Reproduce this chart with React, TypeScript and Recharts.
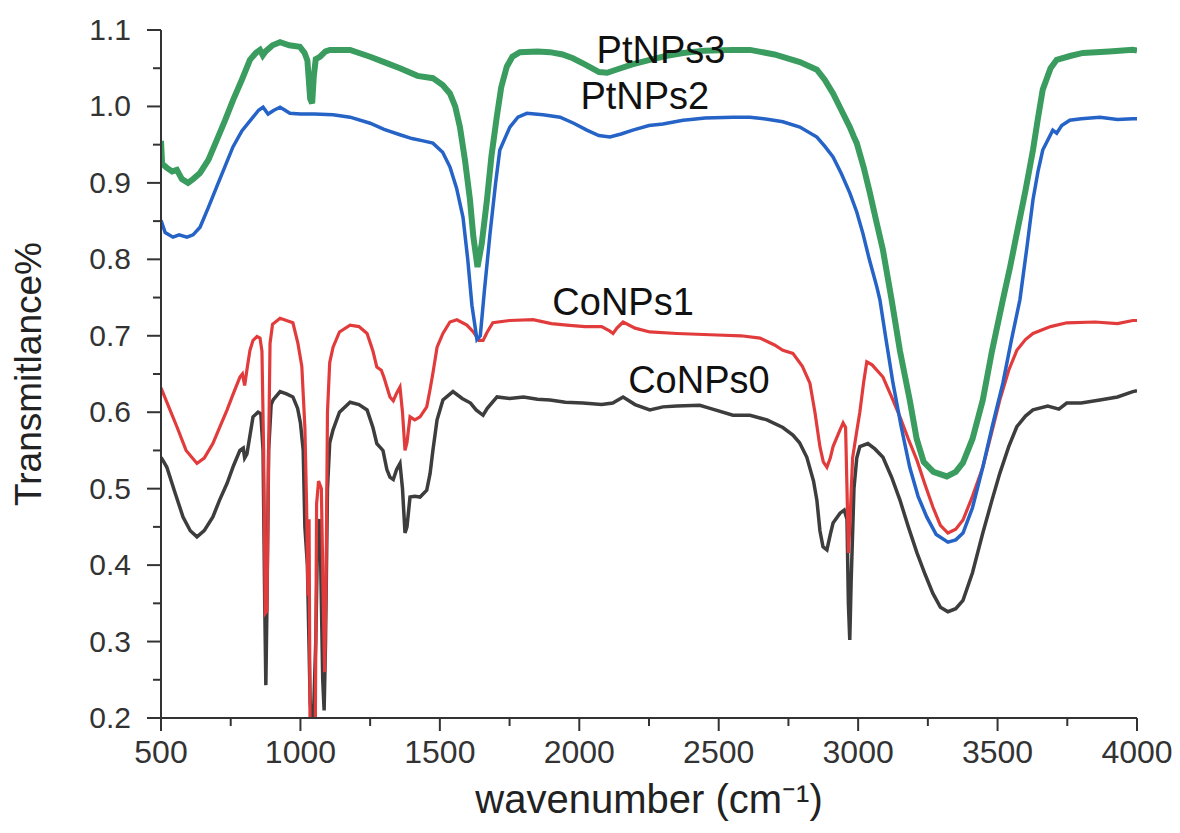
import React from 'react';
import { LineChart, Line, XAxis, YAxis, ReferenceDot } from 'recharts';

const xTicks = [500, 750, 1000, 1250, 1500, 1750, 2000, 2250, 2500, 2750, 3000, 3250, 3500, 3750, 4000];
const yTicks = [0.2, 0.25, 0.3, 0.35, 0.4, 0.45, 0.5, 0.55, 0.6, 0.65, 0.7, 0.75, 0.8, 0.85, 0.9, 0.95, 1.0, 1.05, 1.1];

const coNPs0: [number, number][] = [
  [500,0.541],[510,0.535],[521,0.528],[550,0.495],[579,0.463],[605,0.445],[629,0.437],[655,0.445],[686,0.463],[710,0.485],[737,0.507],[760,0.53],[783,0.55],[795,0.553],[800,0.54],[808,0.545],[830,0.594],[848,0.6],[858,0.598],[866,0.55],[872,0.35],[876,0.243],[880,0.35],[886,0.55],[895,0.61],[902,0.616],[927,0.627],[950,0.624],[973,0.62],[990,0.605],[1000,0.586],[1010,0.55],[1016,0.45],[1025,0.4],[1035,0.22],[1045,0.18],[1055,0.3],[1062,0.45],[1070,0.46],[1080,0.25],[1085,0.21],[1090,0.3],[1097,0.5],[1105,0.56],[1117,0.577],[1140,0.6],[1178,0.613],[1210,0.61],[1239,0.603],[1260,0.58],[1274,0.559],[1296,0.55],[1310,0.525],[1321,0.515],[1333,0.512],[1345,0.525],[1357,0.533],[1366,0.5],[1375,0.442],[1382,0.45],[1393,0.489],[1410,0.49],[1429,0.489],[1453,0.498],[1465,0.52],[1475,0.55],[1490,0.59],[1511,0.616],[1547,0.627],[1580,0.618],[1610,0.612],[1630,0.603],[1655,0.596],[1670,0.605],[1705,0.62],[1750,0.618],[1800,0.62],[1850,0.617],[1895,0.616],[1950,0.613],[2013,0.612],[2080,0.61],[2120,0.612],[2157,0.62],[2200,0.61],[2253,0.603],[2300,0.607],[2350,0.608],[2432,0.609],[2460,0.606],[2551,0.596],[2612,0.596],[2673,0.59],[2730,0.58],[2766,0.57],[2790,0.56],[2816,0.541],[2840,0.51],[2852,0.485],[2863,0.445],[2874,0.424],[2888,0.42],[2900,0.44],[2910,0.455],[2935,0.468],[2950,0.472],[2960,0.46],[2965,0.35],[2970,0.302],[2975,0.38],[2985,0.5],[2995,0.54],[3006,0.555],[3035,0.559],[3060,0.552],[3089,0.541],[3120,0.515],[3150,0.485],[3180,0.45],[3211,0.416],[3240,0.388],[3268,0.363],[3295,0.345],[3322,0.339],[3350,0.343],[3376,0.354],[3410,0.39],[3447,0.442],[3480,0.485],[3508,0.52],[3540,0.555],[3569,0.581],[3600,0.595],[3627,0.603],[3680,0.608],[3720,0.604],[3748,0.612],[3800,0.612],[3867,0.616],[3930,0.62],[3985,0.627],[4000,0.628]
];

const coNPs1: [number, number][] = [
  [500,0.632],[530,0.605],[557,0.581],[590,0.55],[629,0.533],[655,0.54],[686,0.559],[710,0.58],[737,0.603],[760,0.625],[783,0.646],[792,0.65],[800,0.635],[810,0.66],[819,0.681],[830,0.694],[844,0.699],[855,0.697],[862,0.68],[868,0.55],[874,0.337],[880,0.34],[886,0.55],[891,0.69],[900,0.715],[927,0.723],[950,0.72],[973,0.717],[991,0.69],[1005,0.66],[1016,0.58],[1022,0.48],[1027,0.36],[1031,0.46],[1035,0.15],[1052,0.1],[1058,0.48],[1065,0.51],[1075,0.5],[1082,0.35],[1087,0.26],[1092,0.38],[1097,0.6],[1105,0.665],[1117,0.685],[1140,0.705],[1178,0.714],[1210,0.712],[1239,0.703],[1260,0.68],[1274,0.659],[1290,0.655],[1300,0.645],[1321,0.62],[1333,0.615],[1345,0.625],[1357,0.633],[1366,0.6],[1375,0.55],[1382,0.56],[1393,0.594],[1410,0.59],[1429,0.594],[1453,0.607],[1465,0.63],[1475,0.651],[1490,0.685],[1511,0.703],[1536,0.718],[1561,0.721],[1597,0.714],[1620,0.705],[1640,0.694],[1655,0.694],[1670,0.705],[1690,0.717],[1750,0.72],[1834,0.721],[1900,0.716],[1955,0.714],[2020,0.712],[2080,0.712],[2110,0.706],[2121,0.703],[2135,0.71],[2157,0.718],[2200,0.71],[2253,0.705],[2350,0.703],[2494,0.701],[2580,0.7],[2648,0.697],[2700,0.688],[2730,0.681],[2766,0.677],[2800,0.66],[2827,0.638],[2845,0.6],[2863,0.555],[2875,0.535],[2888,0.528],[2900,0.54],[2910,0.555],[2935,0.577],[2946,0.586],[2955,0.58],[2960,0.5],[2965,0.416],[2970,0.45],[2980,0.54],[2995,0.575],[3006,0.6],[3020,0.64],[3031,0.666],[3050,0.662],[3089,0.646],[3120,0.62],[3150,0.594],[3180,0.565],[3211,0.537],[3240,0.505],[3268,0.476],[3295,0.452],[3322,0.442],[3350,0.447],[3376,0.459],[3410,0.49],[3447,0.528],[3480,0.575],[3508,0.616],[3540,0.655],[3569,0.681],[3600,0.695],[3627,0.703],[3690,0.712],[3748,0.717],[3850,0.718],[3930,0.716],[3985,0.72],[4000,0.72]
];

const ptNPs2: [number, number][] = [
  [500,0.851],[515,0.835],[543,0.829],[565,0.832],[593,0.829],[615,0.832],[640,0.842],[670,0.868],[700,0.895],[730,0.922],[758,0.947],[790,0.968],[830,0.986],[850,0.995],[866,0.999],[884,0.99],[905,0.995],[927,0.999],[945,0.995],[962,0.991],[1000,0.99],[1050,0.99],[1117,0.989],[1178,0.986],[1250,0.978],[1300,0.97],[1357,0.963],[1400,0.958],[1440,0.955],[1475,0.952],[1510,0.94],[1536,0.921],[1560,0.893],[1583,0.855],[1600,0.8],[1615,0.74],[1633,0.695],[1645,0.7],[1660,0.76],[1680,0.834],[1700,0.9],[1715,0.943],[1751,0.973],[1780,0.986],[1812,0.991],[1870,0.989],[1931,0.986],[1980,0.978],[2027,0.969],[2070,0.962],[2110,0.96],[2150,0.964],[2192,0.969],[2250,0.975],[2300,0.977],[2372,0.982],[2400,0.983],[2451,0.985],[2551,0.986],[2612,0.986],[2680,0.983],[2730,0.98],[2791,0.973],[2852,0.96],[2880,0.948],[2910,0.934],[2940,0.912],[2970,0.887],[2995,0.862],[3017,0.834],[3040,0.8],[3067,0.764],[3078,0.747],[3100,0.695],[3125,0.638],[3155,0.58],[3185,0.528],[3215,0.49],[3246,0.463],[3280,0.44],[3322,0.43],[3350,0.433],[3376,0.442],[3410,0.475],[3447,0.528],[3480,0.58],[3519,0.638],[3550,0.695],[3580,0.747],[3605,0.815],[3627,0.878],[3645,0.915],[3662,0.943],[3698,0.969],[3712,0.965],[3730,0.975],[3759,0.982],[3800,0.984],[3867,0.986],[3930,0.983],[3985,0.984],[4000,0.984]
];

const ptNPs3: [number, number][] = [
  [500,0.955],[504,0.925],[520,0.92],[540,0.915],[557,0.917],[575,0.905],[597,0.9],[615,0.905],[640,0.913],[670,0.93],[700,0.956],[730,0.982],[758,1.008],[790,1.035],[819,1.061],[840,1.07],[855,1.074],[865,1.067],[875,1.072],[900,1.08],[927,1.084],[960,1.08],[998,1.078],[1015,1.07],[1025,1.06],[1035,1.01],[1042,1.004],[1048,1.04],[1055,1.062],[1070,1.065],[1090,1.072],[1106,1.074],[1178,1.074],[1250,1.065],[1300,1.058],[1357,1.05],[1420,1.04],[1475,1.037],[1510,1.028],[1536,1.017],[1555,1.0],[1572,0.973],[1590,0.93],[1608,0.878],[1620,0.83],[1635,0.79],[1650,0.82],[1669,0.878],[1685,0.935],[1704,0.986],[1720,1.025],[1740,1.052],[1760,1.065],[1787,1.071],[1850,1.072],[1895,1.071],[1940,1.068],[1977,1.063],[2020,1.055],[2071,1.045],[2100,1.044],[2132,1.048],[2190,1.055],[2253,1.061],[2310,1.066],[2372,1.07],[2450,1.073],[2551,1.074],[2612,1.074],[2700,1.068],[2791,1.058],[2852,1.048],[2880,1.035],[2910,1.017],[2940,0.995],[2970,0.973],[2985,0.96],[2995,0.952],[3020,0.92],[3042,0.887],[3065,0.85],[3089,0.812],[3120,0.747],[3150,0.68],[3185,0.616],[3210,0.565],[3235,0.535],[3270,0.522],[3318,0.516],[3350,0.522],[3376,0.534],[3410,0.565],[3447,0.616],[3480,0.68],[3519,0.747],[3545,0.79],[3569,0.834],[3600,0.89],[3627,0.943],[3645,0.985],[3662,1.022],[3690,1.05],[3712,1.061],[3760,1.066],[3806,1.07],[3900,1.072],[3985,1.074],[4000,1.073]
];

const toRows = (arr: [number, number][]) => arr.map(([x, y]) => ({ x, y }));

const FONT = '"Liberation Sans", Arial, sans-serif';
const AXIS = '#333333';

const XTick = (props: any) => {
  const { x, y, payload } = props;
  const major = payload.value % 500 === 0;
  return (
    <g>
      <line x1={x} y1={y} x2={x} y2={y + (major ? 13 : 8)} stroke={AXIS} strokeWidth={2} />
      {major && (
        <text x={x} y={y + 45} textAnchor="middle" fontFamily={FONT} fontSize={32} fill={AXIS}>
          {payload.value}
        </text>
      )}
    </g>
  );
};

const YTick = (props: any) => {
  const { x, y, payload } = props;
  const v = Math.round(payload.value * 100);
  const major = v % 10 === 0;
  return (
    <g>
      <line x1={x} y1={y} x2={x - (major ? 14 : 8)} y2={y} stroke={AXIS} strokeWidth={2} />
      {major && (
        <text x={x - 30} y={y + 10} textAnchor="end" fontFamily={FONT} fontSize={30} fill={AXIS}>
          {payload.value.toFixed(1)}
        </text>
      )}
    </g>
  );
};

const seriesLabel = (value: string) => ({
  value,
  position: 'center' as const,
  fontFamily: FONT,
  fontSize: 38,
  fill: '#111111',
});

export default function App() {
  return (
    <div style={{ width: 1164, height: 817, background: '#fff' }}>
      <LineChart width={1164} height={817} margin={{ top: 22, right: 35, left: 0, bottom: 27 }}>
        <XAxis
          xAxisId="b"
          type="number"
          dataKey="x"
          domain={[500, 4000]}
          ticks={xTicks}
          allowDataOverflow
          height={80}
          tickSize={0}
          tickMargin={0}
          tickLine={false}
          tick={<XTick />}
          axisLine={{ stroke: AXIS, strokeWidth: 2 }}
          interval={0}
          label={{ value: 'wavenumber (cm⁻¹)', position: 'insideBottom', offset: -15, fontFamily: FONT, fontSize: 40, fill: '#222' }}
        />
        <XAxis
          xAxisId="t"
          orientation="top"
          type="number"
          dataKey="x"
          domain={[500, 4000]}
          allowDataOverflow
          height={0}
          tick={false}
          tickLine={false}
          axisLine={{ stroke: AXIS, strokeWidth: 2 }}
        />
        <YAxis
          yAxisId="l"
          type="number"
          domain={[0.2, 1.1]}
          ticks={yTicks}
          allowDataOverflow
          width={153}
          tickSize={0}
          tickMargin={0}
          tickLine={false}
          tick={<YTick />}
          interval={0}
          axisLine={{ stroke: AXIS, strokeWidth: 2 }}
          label={{ value: 'Transmitlance%', angle: -90, position: 'insideLeft', offset: 20, fontFamily: FONT, fontSize: 37, fill: '#222', style: { textAnchor: 'middle' } }}
        />
        <YAxis
          yAxisId="r"
          orientation="right"
          type="number"
          domain={[0.2, 1.1]}
          allowDataOverflow
          width={0}
          tick={false}
          tickLine={false}
          axisLine={{ stroke: AXIS, strokeWidth: 2 }}
        />
        <Line xAxisId="b" yAxisId="l" data={toRows(coNPs0)} dataKey="y" type="linear" stroke="#3d3d3d" strokeWidth={3.5} dot={false} isAnimationActive={false} />
        <Line xAxisId="b" yAxisId="l" data={toRows(coNPs1)} dataKey="y" type="linear" stroke="#e23b3b" strokeWidth={3.2} dot={false} isAnimationActive={false} />
        <Line xAxisId="b" yAxisId="l" data={toRows(ptNPs2)} dataKey="y" type="linear" stroke="#2563c6" strokeWidth={3.5} dot={false} isAnimationActive={false} />
        <Line xAxisId="b" yAxisId="l" data={toRows(ptNPs3)} dataKey="y" type="linear" stroke="#3a9c5e" strokeWidth={6} dot={false} isAnimationActive={false} />
        <ReferenceDot xAxisId="b" yAxisId="l" x={2293} y={1.075} r={0} label={seriesLabel('PtNPs3')} />
        <ReferenceDot xAxisId="b" yAxisId="l" x={2235} y={1.014} r={0} label={seriesLabel('PtNPs2')} />
        <ReferenceDot xAxisId="b" yAxisId="l" x={2157} y={0.745} r={0} label={seriesLabel('CoNPs1')} />
        <ReferenceDot xAxisId="b" yAxisId="l" x={2429} y={0.643} r={0} label={seriesLabel('CoNPs0')} />
      </LineChart>
    </div>
  );
}
